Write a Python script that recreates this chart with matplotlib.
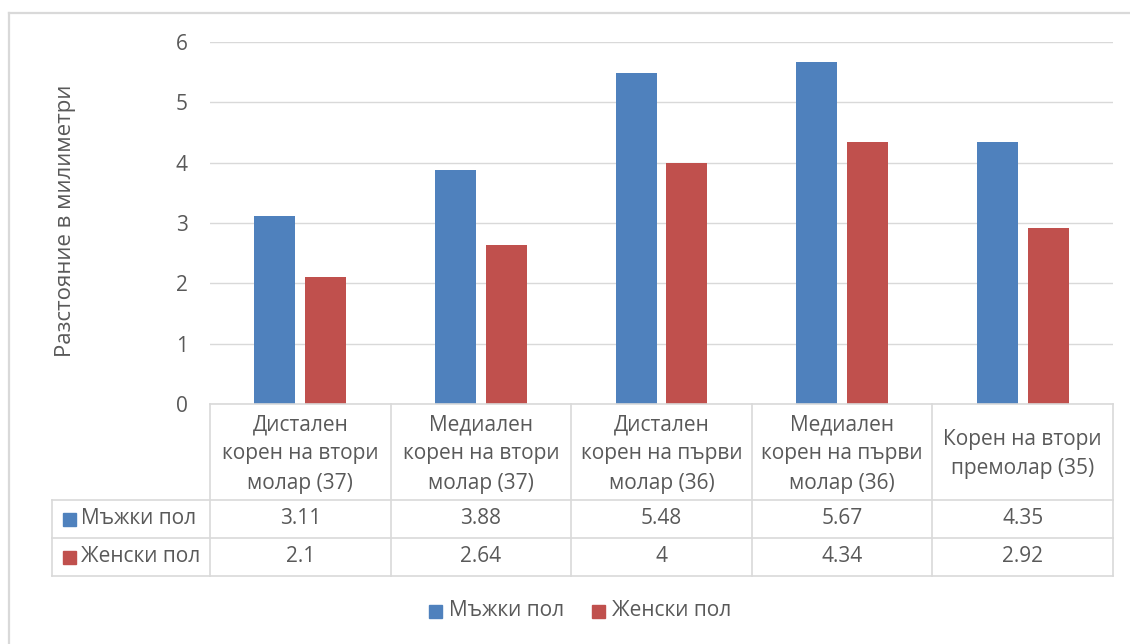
import matplotlib
matplotlib.use("Agg")
import matplotlib.pyplot as plt
from matplotlib.lines import Line2D
from matplotlib.patches import Rectangle
import numpy as np

plt.rcParams['font.family'] = ['Open Sans', 'DejaVu Sans']

categories = [
    "Дистален\nкорен на втори\nмолар (37)",
    "Медиален\nкорен на втори\nмолар (37)",
    "Дистален\nкорен на първи\nмолар (36)",
    "Медиален\nкорен на първи\nмолар (36)",
    "Корен на втори\nпремолар (35)",
]
series_names = ["Мъжки пол", "Женски пол"]
male = [3.11, 3.88, 5.48, 5.67, 4.35]
female = [2.1, 2.64, 4, 4.34, 2.92]
y_ticks = [0, 1, 2, 3, 4, 5, 6]
y_label = "Разстояние в милиметри"

colors = ["#4F81BD", "#C0504D"]
text_color = "#595959"
line_color = "#D9D9D9"
fs = 15

W, H = 1130, 644
fig = plt.figure(figsize=(W / 100, H / 100), dpi=100)

def fx(px):
    return px / W

def fy(py):
    return 1 - py / H

# chart frame (top and left edges fall inside the canvas)
fig.add_artist(Line2D([fx(9), fx(W)], [fy(13), fy(13)], transform=fig.transFigure,
                      color=line_color, linewidth=1.6))
fig.add_artist(Line2D([fx(9), fx(9)], [fy(13), fy(H)], transform=fig.transFigure,
                      color=line_color, linewidth=1.6))

x_left, x_right = 210, 1113
y_zero, y_top = 404, 42
ax = fig.add_axes([fx(x_left), fy(y_zero), fx(x_right) - fx(x_left), fy(y_top) - fy(y_zero)])

n = len(categories)
centers = np.arange(n) + 0.5
bw = 0.227
gap = 0.055
ax.bar(centers - (bw + gap) / 2, male, width=bw, color=colors[0], zorder=3)
ax.bar(centers + (bw + gap) / 2, female, width=bw, color=colors[1], zorder=3)
ax.set_xlim(0, n)
ax.set_ylim(0, 6)
ax.set_yticks(y_ticks)
ax.set_yticklabels([str(t) for t in y_ticks], fontsize=fs, color=text_color)
ax.tick_params(axis='y', length=0, pad=16)
ax.set_xticks([])
ax.grid(axis='y', color=line_color, linewidth=1, zorder=0)
for s in ax.spines.values():
    s.set_visible(False)

# axis title
fig.text(fx(66), fy(221), y_label, rotation=90, ha='center', va='center',
         fontsize=16, color=text_color)

# data table below the plot
col_edges = np.linspace(x_left, x_right, n + 1)
row_edges = [404, 500, 538, 576]
label_left = 52

def hline(x0, x1, y):
    fig.add_artist(Line2D([fx(x0), fx(x1)], [fy(y), fy(y)], transform=fig.transFigure,
                          color=line_color, linewidth=1.2))

def vline(x, y0, y1):
    fig.add_artist(Line2D([fx(x), fx(x)], [fy(y0), fy(y1)], transform=fig.transFigure,
                          color=line_color, linewidth=1.2))

hline(x_left, x_right, row_edges[0])
for y in row_edges[1:]:
    hline(label_left, x_right, y)
for x in col_edges:
    vline(x, row_edges[0], row_edges[-1])
vline(label_left, row_edges[1], row_edges[-1])

for i, cat in enumerate(categories):
    cx = (col_edges[i] + col_edges[i + 1]) / 2
    fig.text(fx(cx), fy((row_edges[0] + row_edges[1]) / 2 + 2), cat, ha='center', va='center',
             fontsize=fs, color=text_color, linespacing=1.5)

for r, (name, vals) in enumerate(zip(series_names, [male, female])):
    cy = (row_edges[r + 1] + row_edges[r + 2]) / 2
    fig.add_artist(Rectangle((fx(63), fy(cy + 6.5)), fx(13), fy(cy - 6.5) - fy(cy + 6.5),
                             transform=fig.transFigure, color=colors[r]))
    fig.text(fx(81), fy(cy), name, ha='left', va='center', fontsize=fs, color=text_color)
    for i, v in enumerate(vals):
        cx = (col_edges[i] + col_edges[i + 1]) / 2
        fig.text(fx(cx), fy(cy), f"{v:g}", ha='center', va='center',
                 fontsize=fs, color=text_color)

# legend
leg_y = 611
legend_items = [(429, series_names[0]), (592, series_names[1])]
for r, (lx, name) in enumerate(legend_items):
    fig.add_artist(Rectangle((fx(lx), fy(leg_y + 6.5)), fx(13), fy(leg_y - 6.5) - fy(leg_y + 6.5),
                             transform=fig.transFigure, color=colors[r]))
    fig.text(fx(lx + 20), fy(leg_y), name, ha='left', va='center', fontsize=fs, color=text_color)

fig.savefig("out.png", dpi=100)
